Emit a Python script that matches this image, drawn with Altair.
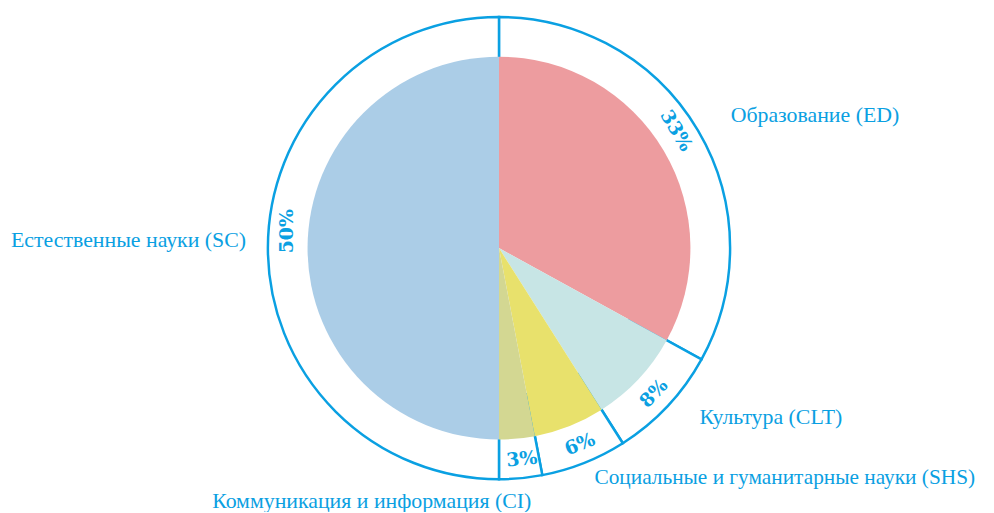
import altair as alt
import pandas as pd

codes = ["ED", "CLT", "SHS", "CI", "SC"]
names = [
    "Образование (ED)",
    "Культура (CLT)",
    "Социальные и гуманитарные науки (SHS)",
    "Коммуникация и информация (CI)",
    "Естественные науки (SC)",
]
shares = [33, 8, 6, 3, 50]
colors = ["#ed9c9f", "#c7e5e5", "#e8e16c", "#d3d792", "#abcde7"]
BLUE = "#0aa0e2"
SERIF = "Liberation Serif, Times New Roman, serif"

total = sum(shares)
cum = 0
pct_angle = []
for v in shares:
    mid = (cum + v / 2) / total * 360
    cum += v
    pct_angle.append((mid + 180) % 360 if 90 < mid < 270 else mid)

df = pd.DataFrame({
    "code": codes,
    "name": names,
    "share": shares,
    "pct": [f"{v}%" for v in shares],
    "ang": pct_angle,
    "ord": list(range(len(codes))),
})
for c in codes:
    df["n_" + c] = [n if k == c else "" for n, k in zip(names, codes)]
    df["p_" + c] = [f"{v}%" if k == c else "" for v, k in zip(shares, codes)]

base = alt.Chart(df).encode(
    theta=alt.Theta("share:Q", stack=True),
    order=alt.Order("ord:Q"),
)

ring = base.mark_arc(radius=233, innerRadius=150, fill="white", stroke=BLUE, strokeWidth=2.5)
pie = base.mark_arc(radius=193).encode(
    color=alt.Color("code:N", scale=alt.Scale(domain=codes, range=colors), legend=None)
)


def pct(c, dx=0):
    return base.mark_text(
        radius=214, font="DejaVu Serif", fontWeight="bold", fontSize=19,
        color=BLUE, baseline="middle", align="center", dx=dx
    ).encode(text=f"p_{c}:N", angle=alt.Angle("ang:Q", scale=None))


def label(c, r, align, dx=0, dy=0, size=22):
    return base.mark_text(
        radius=r, align=align, baseline="middle", font=SERIF,
        fontSize=size, color=BLUE, dx=dx, dy=dy
    ).encode(text=f"n_{c}:N")


chart = alt.layer(
    ring, pie,
    pct("ED", -11), pct("CLT", 0), pct("SHS", 3), pct("CI", 3), pct("SC", 17),
    label("ED", 269, "left", 2, 3),
    label("CLT", 265, "left", 9, -11),
    label("SHS", 256, "left", 2, -6, 21.5),
    label("CI", 262, "right", 8, -6),
    label("SC", 255, "right", 0, -8),
).properties(
    width=978, height=480,
    autosize=alt.AutoSizeParams(type="none"),
    padding={"left": 6, "top": 0, "right": 2, "bottom": 24},
).configure_view(stroke=None)

chart.save("out.html", embed_options={"renderer": "svg", "actions": False})
